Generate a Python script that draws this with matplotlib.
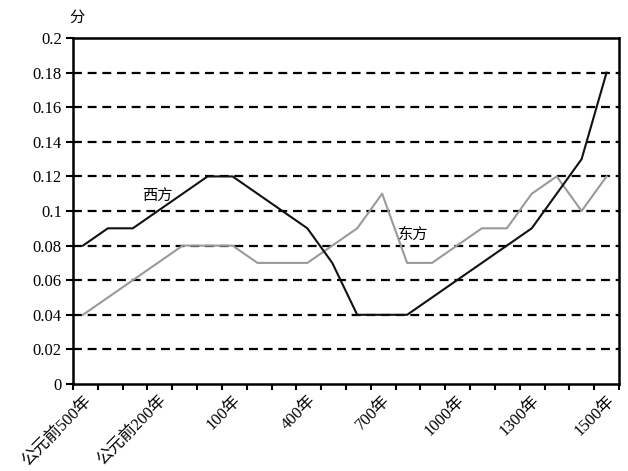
import numpy as np
import matplotlib
matplotlib.use("Agg")
import matplotlib.pyplot as plt

plt.rcParams['font.family'] = ['Liberation Serif', 'Noto Sans CJK SC']

# 22 categories (one point per category)
west = [0.08, 0.09, 0.09, 0.10, 0.11, 0.12, 0.12, 0.11, 0.10, 0.09, 0.07,
        0.04, 0.04, 0.04, 0.05, 0.06, 0.07, 0.08, 0.09, 0.11, 0.13, 0.18]
east = [0.04, 0.05, 0.06, 0.07, 0.08, 0.08, 0.08, 0.07, 0.07, 0.07, 0.08,
        0.09, 0.11, 0.07, 0.07, 0.08, 0.09, 0.09, 0.11, 0.12, 0.10, 0.12]

label_idx = [0, 3, 6, 9, 12, 15, 18, 21]
x_labels = ['公元前500年', '公元前200年', '100年', '400年', '700年',
            '1000年', '1300年', '1500年']
y_ticks = [0, 0.02, 0.04, 0.06, 0.08, 0.1, 0.12, 0.14, 0.16, 0.18, 0.2]
y_ticklabels = ['0', '0.02', '0.04', '0.06', '0.08', '0.1', '0.12', '0.14',
                '0.16', '0.18', '0.2']

fig = plt.figure(figsize=(6.28, 4.71), dpi=100)
ax = fig.add_axes([0.1162, 0.1847, 0.8695, 0.7346])

x = np.arange(len(west))

# dashed horizontal grid
for yv in y_ticks[1:-1]:
    ax.axhline(yv, color='black', lw=1.6, linestyle=(0, (4, 2.6)), zorder=1)

ax.plot(x, east, color='#9a9a9a', lw=1.5, zorder=3)
ax.plot(x, west, color='#111111', lw=1.5, zorder=4)

ax.set_xlim(-0.4, 21.5)
ax.set_ylim(0, 0.2)

ax.set_yticks(y_ticks)
ax.set_yticklabels(y_ticklabels, fontsize=12)
ax.tick_params(axis='y', direction='out', length=5, width=1.5, pad=3)

# tick marks between categories, labels at chosen categories
ax.set_xticks(np.linspace(-0.4, 21.5, 23), minor=True)
ax.tick_params(axis='x', which='minor', direction='out', length=4, width=1.5)
ax.set_xticks(label_idx)
ax.set_xticklabels(x_labels, fontsize=12, rotation=45, ha='right',
                   rotation_mode='anchor')
ax.tick_params(axis='x', which='major', length=0, pad=6)

for s in ax.spines.values():
    s.set_linewidth(1.8)

ax.text(2.97, 0.1087, '西方', fontsize=11, ha='center', va='center',
        family=['Noto Sans CJK SC'], zorder=5)
ax.text(13.23, 0.0867, '东方', fontsize=11, ha='center', va='center',
        family=['Noto Sans CJK SC'], zorder=5)
ax.text(-0.24, 0.212, '分', fontsize=11, ha='center', va='center',
        family=['Noto Sans CJK SC'], clip_on=False)

fig.savefig('out.png', dpi=100)
